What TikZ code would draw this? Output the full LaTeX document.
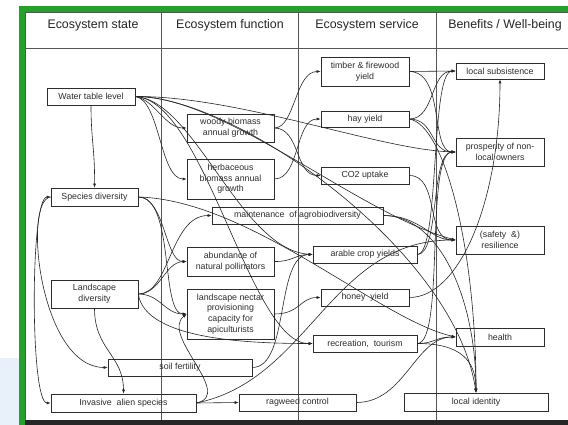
\documentclass[tikz,border=0pt]{standalone}
\usepackage{fontspec}
\setmainfont{Liberation Sans}
\usetikzlibrary{arrows.meta}

\definecolor{framegreen}{RGB}{38,160,44}
\definecolor{patchblue}{RGB}{232,240,250}
\definecolor{gridgray}{RGB}{85,85,85}
\definecolor{inkgray}{RGB}{45,45,45}

\tikzset{
  box/.style 2 args={draw=inkgray, line width=0.6pt, inner sep=0pt, align=center,
    minimum width=#1pt, minimum height=#2pt, text=inkgray,
    font=\fontsize{8.8}{10.6}\selectfont},
  hdr/.style={inner sep=0pt, text=black!85, font=\fontsize{12.4}{14}\selectfont},
  grid/.style={draw=gridgray, line width=0.9pt},
  conn/.style={draw=black!85, line width=0.6pt, -{Latex[length=4pt,width=3pt]}},
  conn2/.style={draw=black!85, line width=0.6pt, {Latex[length=4pt,width=3pt]}-{Latex[length=4pt,width=3pt]}}
}

\begin{document}
\begin{tikzpicture}[x=1pt,y=-1pt]
\useasboundingbox (0,0) rectangle (568,425);
\fill[white] (0,0) rectangle (568,425);

% table grid
\draw[grid] (25,12.5) -- (568,12.5);
\draw[grid] (25,48) -- (568,48);
\draw[grid] (25.5,12) -- (25.5,425);
\draw[grid] (161,12) -- (161,421);
\draw[grid] (298,12) -- (298,421);
\draw[grid] (436.5,12) -- (436.5,421);
\fill[black!85] (25,420) rectangle (568,425);

% slide frame and backdrop
\fill[patchblue] (0,358) rectangle (19,425);
\fill[framegreen] (19,6.5) rectangle (568,12);
\fill[framegreen] (19,6.5) rectangle (25,425);

% column headings
\node[hdr] (h1) at (93,25.5) {Ecosystem state};
\node[hdr] (h2) at (230,25.5) {Ecosystem function};
\node[hdr] (h3) at (367,25.5) {Ecosystem service};
\node[hdr] (h4) at (505,25.5) {Benefits / Well-being};

% ecosystem state
\node[box={88}{17}] (W) at (91,96.5) {Water table level};
\node[box={87}{18}] (S) at (94.5,197) {Species diversity};
\node[box={87}{28}] (L) at (94.5,294) {Landscape\\diversity};
\node[box={145}{18}] (I) at (123.5,403) {Invasive\ \ alien species};

% ecosystem function
\node[box={87}{28}] (Wo) at (230.5,128) {woody biomass\\annual growth};
\node[box={87}{40}] (H) at (230.5,179) {herbaceous\\biomass annual\\growth};
\node[box={171}{17}] (M) at (297.5,215.5) {maintenance\ \ of agrobiodiversity};
\node[box={87}{29}] (A) at (230.5,261.5) {abundance of\\natural pollinators};
\node[box={87}{50}] (N) at (230.5,314) {landscape nectar\\provisioning\\capacity for\\apiculturists};
\node[box={144}{17}] (F) at (180,367.5) {soil fertility};
\node[box={117}{17}] (R) at (297.5,402.5) {ragweed control};

% ecosystem service
\node[box={88}{29}] (T) at (365,71.5) {timber \& firewood\\yield};
\node[box={88}{16}] (Y) at (365,119) {hay yield};
\node[box={88}{17}] (C) at (365,175.5) {CO2 uptake};
\node[box={104}{17}] (Ar) at (365,254.5) {arable crop yields};
\node[box={88}{17}] (Ho) at (365,297.5) {honey\ \ yield};
\node[box={104}{17}] (Re) at (365,343.5) {recreation,\ \ tourism};

% benefits
\node[box={88}{16}] (LS) at (500,71) {local subsistence};
\node[box={88}{28}] (P) at (500,152) {prosperity of non-\\local owners};
\node[box={88}{28}] (SR) at (500,240) {(safety \ \&)\\resilience};
\node[box={88}{18}] (He) at (500,337) {health};
\node[box={144}{18}] (LI) at (476,402) {local identity};

% water table level
\draw[conn] (W.east) .. controls (155,100) and (165,128) .. (Wo.west);
\draw[conn] (W.east) .. controls (160,100) and (160,179) .. (H.west);
\draw[conn] (W.south) .. controls (91,140) and (95,150) .. (S.north);
\draw[conn] (W.east) .. controls (195,100) and (240,250) .. (Ar.west);
\draw[conn] (W.east) .. controls (205,100) and (250,345) .. (Re.west);
\draw[conn] (W.east) .. controls (240,96) and (380,150) .. (P.west);
\draw[conn] (W.east) .. controls (225,96) and (360,215) .. (SR.west);
\draw[conn] (W.east) .. controls (235,96) and (455,250) .. (LI.north);

% biomass growth
\draw[conn] (Wo.east) .. controls (295,128) and (295,71.5) .. (T.west);
\draw[conn] (Wo.east) .. controls (300,128) and (295,175.5) .. (C.west);
\draw[conn] (H.east) .. controls (300,179) and (295,119) .. (Y.west);

% species diversity
\draw[conn2] (S.west) .. controls (30,197) and (30,403) .. (I.west);
\draw[conn] (S.west) .. controls (22,200) and (40,367.5) .. (F.west);
\draw[conn] (S.east) .. controls (165,197) and (165,262) .. (A.west);
\draw[conn] (S.east) .. controls (175,197) and (160,314) .. (N.west);
\draw[conn] (S.east) .. controls (250,200) and (380,320) .. (He.west);

% landscape diversity
\draw[conn] (L.south) .. controls (94.5,350) and (123.5,355) .. (I.north);
\draw[conn] (L.east) .. controls (160,294) and (165,262) .. (A.west);
\draw[conn] (L.east) .. controls (160,294) and (165,314) .. (N.west);
\draw[conn] (L.east) .. controls (170,294) and (170,215.5) .. (M.west);
\draw[conn] (L.east) .. controls (145,340) and (250,343.5) .. (Re.west);

% functions to services
\draw[conn] (A.east) .. controls (292,262) and (295,254.5) .. (Ar.west);
\draw[conn] (N.east) .. controls (300,314) and (300,297.5) .. (Ho.west);
\draw[conn] (F.east) .. controls (290,367.5) and (275,254.5) .. (Ar.west);

% invasive species
\draw[conn] (I.east) -- (R.west);
\draw[conn] (I.east) .. controls (235,395) and (160,335) .. (N.west);
\draw[conn] (I.east) .. controls (310,380) and (330,240) .. (SR.west);
\draw[conn] (R.east) .. controls (405,402.5) and (415,337) .. (He.west);

% services to benefits
\draw[conn] (M.east) .. controls (420,215.5) and (430,240) .. (SR.west);
\draw[conn] (M.east) .. controls (440,215.5) and (476,300) .. (LI.north);
\draw[conn] (T.east) -- (LS.west);
\draw[conn] (T.east) .. controls (445,71.5) and (430,152) .. (P.west);
\draw[conn] (Y.east) .. controls (435,119) and (430,71) .. (LS.west);
\draw[conn] (Y.east) .. controls (435,119) and (430,152) .. (P.west);
\draw[conn] (Y.east) .. controls (445,125) and (476,250) .. (LI.north);
\draw[conn] (C.east) .. controls (440,175.5) and (425,240) .. (SR.west);
\draw[conn] (Ar.east) .. controls (440,254.5) and (430,71) .. (LS.west);
\draw[conn] (Ar.east) .. controls (440,254.5) and (430,152) .. (P.west);
\draw[conn] (Ho.east) .. controls (460,297.5) and (500,200) .. (LS.south);
\draw[conn] (Re.east) .. controls (435,343.5) and (435,337) .. (He.west);
\draw[conn] (Re.east) .. controls (460,343.5) and (476,360) .. (LI.north);
\draw[conn] (Re.east) .. controls (445,343.5) and (425,152) .. (P.west);
\end{tikzpicture}
\end{document}
